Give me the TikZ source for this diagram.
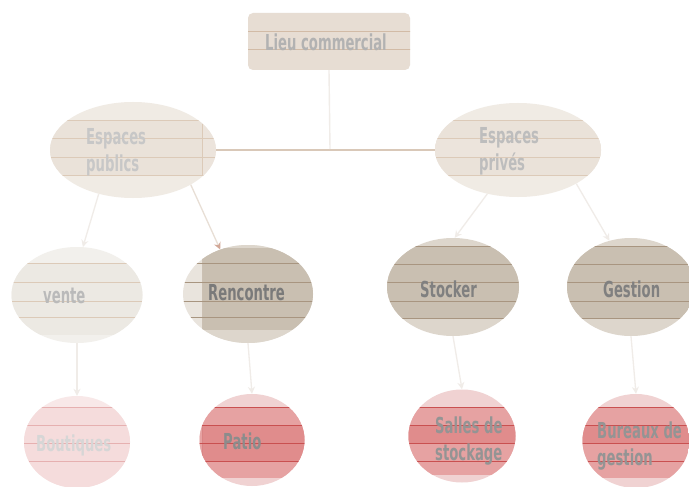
\documentclass[tikz,border=0pt]{standalone}
\usepackage{fontspec}
\newfontfamily\agency{DejaVu Sans}[FakeStretch=0.6]
\usetikzlibrary{shapes.geometric,arrows.meta}
\definecolor{rootfill}{HTML}{E7DDD3}
\definecolor{rootline}{HTML}{D2BBA6}
\definecolor{pubfill}{HTML}{F0EBE4}
\definecolor{pubband}{HTML}{EAE2D9}
\definecolor{publine}{HTML}{DCCAB8}
\definecolor{ventefill}{HTML}{ECE9E3}
\definecolor{ventetop}{HTML}{F2F0EC}
\definecolor{midlight}{HTML}{E9E4DD}
\definecolor{middark}{HTML}{C9BFB1}
\definecolor{midpale}{HTML}{DDD6CC}
\definecolor{midline}{HTML}{A89580}
\definecolor{boutfill}{HTML}{F5DCDC}
\definecolor{bouttop}{HTML}{F8E8E8}
\definecolor{boutline}{HTML}{E6B0B0}
\definecolor{redfill}{HTML}{E6A2A2}
\definecolor{reddark}{HTML}{E08C8C}
\definecolor{redtop}{HTML}{F0D2D2}
\definecolor{redline}{HTML}{C95050}
\definecolor{connfaint}{HTML}{F0ECE8}
\definecolor{connmid}{HTML}{E8DFD6}
\definecolor{trunk}{HTML}{D9C8B8}
\definecolor{tipred}{HTML}{D2A898}
\begin{document}
\begin{tikzpicture}[x=1pt,y=-1pt,
  ell/.style={ellipse, inner sep=0pt, draw=none},
  lbl/.style={font=\agency\bfseries\fontsize{22}{27}\selectfont, inner sep=0pt, align=left},
  conn/.style={line width=1.3pt, -{Stealth[length=7pt,width=7pt]}},
  stripe/.style={line width=0.6pt},
]
\useasboundingbox (0,0) rectangle (689,487);
\fill[white] (0,0) rectangle (689,487);

% ---------- shapes ----------
\node[rectangle, rounded corners=5pt, minimum width=162pt, minimum height=57pt, inner sep=0pt, fill=rootfill] (root) at (329,41.5) {};
\begin{scope}
  \clip[rounded corners=5pt] (248,13) rectangle (410,70);
  \foreach \yy in {31,49} \draw[stripe, rootline] (240,\yy) -- (420,\yy);
\end{scope}

\node[ell, minimum width=166pt, minimum height=96pt] (pub) at (133,150) {};
\begin{scope}
  \clip (pub.center) ellipse [x radius=83pt, y radius=48pt];
  \fill[pubfill] (40,100) rectangle (230,200);
  \fill[pubband] (40,120) rectangle (202,175);
  \fill[rootfill!80!white] (202,120) rectangle (230,175);
  \draw[stripe, publine] (202,120) -- (202,175);
  \foreach \yy in {120,138,157,175} \draw[stripe, publine] (40,\yy) -- (230,\yy);
\end{scope}

\node[ell, minimum width=166pt, minimum height=94pt] (priv) at (518,150) {};
\begin{scope}
  \clip (priv.center) ellipse [x radius=83pt, y radius=47pt];
  \fill[pubfill] (430,100) rectangle (610,200);
  \fill[pubband] (430,120) rectangle (610,175);
  \fill[rootfill!80!white] (430,138) rectangle (610,157);
  \foreach \yy in {120,138,157,175} \draw[stripe, publine] (430,\yy) -- (610,\yy);
\end{scope}

\node[ell, minimum width=131pt, minimum height=96pt] (vente) at (77,295) {};
\begin{scope}
  \clip (vente.center) ellipse [x radius=65.5pt, y radius=48pt];
  \fill[ventetop] (0,240) rectangle (150,350);
  \fill[ventefill] (0,263) rectangle (150,335);
  \foreach \yy in {263,282,301,317} \draw[stripe, publine] (0,\yy) -- (150,\yy);
\end{scope}

\node[ell, minimum width=130pt, minimum height=98pt] (ren) at (248,294) {};
\begin{scope}
  \clip (ren.center) ellipse [x radius=65pt, y radius=49pt];
  \fill[midlight] (180,240) rectangle (320,350);
  \fill[midpale] (202,240) rectangle (320,350);
  \fill[middark] (202,248) rectangle (320,330);
  \draw[stripe, midline!60!white] (202,248) -- (202,330);
  \foreach \yy in {263,282,301,317} \draw[stripe, midline] (180,\yy) -- (320,\yy);
\end{scope}

\node[ell, minimum width=132pt, minimum height=98pt] (sto) at (453,287) {};
\begin{scope}
  \clip (sto.center) ellipse [x radius=66pt, y radius=49pt];
  \fill[midpale] (380,230) rectangle (530,340);
  \fill[middark] (380,246) rectangle (530,318);
  \foreach \yy in {246,264,282,301,318} \draw[stripe, midline] (380,\yy) -- (530,\yy);
\end{scope}

\node[ell, minimum width=128pt, minimum height=98pt] (ges) at (631,287) {};
\begin{scope}
  \clip (ges.center) ellipse [x radius=64pt, y radius=49pt];
  \fill[midpale] (560,230) rectangle (700,340);
  \fill[middark] (560,246) rectangle (700,318);
  \foreach \yy in {246,264,282,301,318} \draw[stripe, midline] (560,\yy) -- (700,\yy);
\end{scope}

\node[ell, minimum width=106pt, minimum height=92pt] (bou) at (77,442) {};
\begin{scope}
  \clip (bou.center) ellipse [x radius=53pt, y radius=46pt];
  \fill[bouttop] (20,390) rectangle (135,490);
  \fill[boutfill] (20,407) rectangle (135,490);
  \foreach \yy in {407,425,443,461} \draw[stripe, boutline] (20,\yy) -- (135,\yy);
\end{scope}

\node[ell, minimum width=105pt, minimum height=92pt] (pat) at (252,440) {};
\begin{scope}
  \clip (pat.center) ellipse [x radius=52.5pt, y radius=46pt];
  \fill[redtop] (195,390) rectangle (310,490);
  \fill[redfill] (195,407) rectangle (310,478);
  \fill[reddark] (202,425) rectangle (310,461);
  \draw[stripe, redline!70!white] (202,425) -- (202,461);
  \foreach \yy in {407,425,443,461} \draw[stripe, redline] (195,\yy) -- (310,\yy);
\end{scope}

\node[ell, minimum width=107pt, minimum height=93pt] (sal) at (462,436) {};
\begin{scope}
  \clip (sal.center) ellipse [x radius=53.5pt, y radius=46.5pt];
  \fill[redtop] (405,385) rectangle (520,490);
  \fill[redfill] (405,407) rectangle (520,475);
  \fill[reddark] (405,425) rectangle (520,443);
  \foreach \yy in {407,425,443,461} \draw[stripe, redline] (405,\yy) -- (520,\yy);
\end{scope}

\node[ell, minimum width=107pt, minimum height=94pt] (bur) at (636,441) {};
\begin{scope}
  \clip (bur.center) ellipse [x radius=53.5pt, y radius=47pt];
  \fill[redtop] (580,390) rectangle (695,490);
  \fill[redfill] (580,407) rectangle (695,478);
  \fill[reddark] (580,425) rectangle (695,443);
  \foreach \yy in {407,425,443,461} \draw[stripe, redline] (580,\yy) -- (695,\yy);
\end{scope}

% ---------- connectors ----------
\coordinate (j) at (330,149);
\draw[line width=1.6pt, trunk] (pub.east) -- (priv.west);
\draw[line width=1.4pt, connfaint] (root.south) -- (j);
\draw[conn, connfaint] (pub.232) -- (vente.83);
\draw[conn, connmid, -{Stealth[length=7pt,width=7pt,color=tipred]}] (pub.329) -- (ren.122);
\draw[conn, connfaint] (priv.235) -- (sto.88);
\draw[conn, connfaint] (priv.330) -- (ges.115);
\draw[conn, connfaint] (vente.south) -- (bou.north);
\draw[conn, connfaint] (ren.south) -- (pat.north);
\draw[conn, connfaint] (sto.south) -- (sal.north);
\draw[conn, connfaint] (ges.south) -- (bur.north);

% ---------- texts ----------
\node[lbl, text=black!30] (t-root) at (326,42) {Lieu commercial};
\node[lbl, text=black!22, anchor=west] (t-pub) at (86,152) {Espaces\\publics};
\node[lbl, text=black!26, anchor=west] (t-priv) at (479,151) {Espaces\\privés};
\node[lbl, text=black!27, anchor=west] (t-vente) at (43,296) {vente};
\node[lbl, text=black!52, anchor=west] (t-ren) at (208,293) {Rencontre};
\node[lbl, text=black!50, anchor=west] (t-sto) at (420,289) {Stocker};
\node[lbl, text=black!50, anchor=west] (t-ges) at (603,289) {Gestion};
\node[lbl, text=black!16, anchor=west] (t-bou) at (36,445) {Boutiques};
\node[lbl, text=black!45, anchor=west] (t-pat) at (223,441) {Patio};
\node[lbl, text=black!42, anchor=west] (t-sal) at (435,441) {Salles de\\stockage};
\node[lbl, text=black!42, anchor=west] (t-bur) at (597,446) {Bureaux de\\gestion};
\end{tikzpicture}
\end{document}
